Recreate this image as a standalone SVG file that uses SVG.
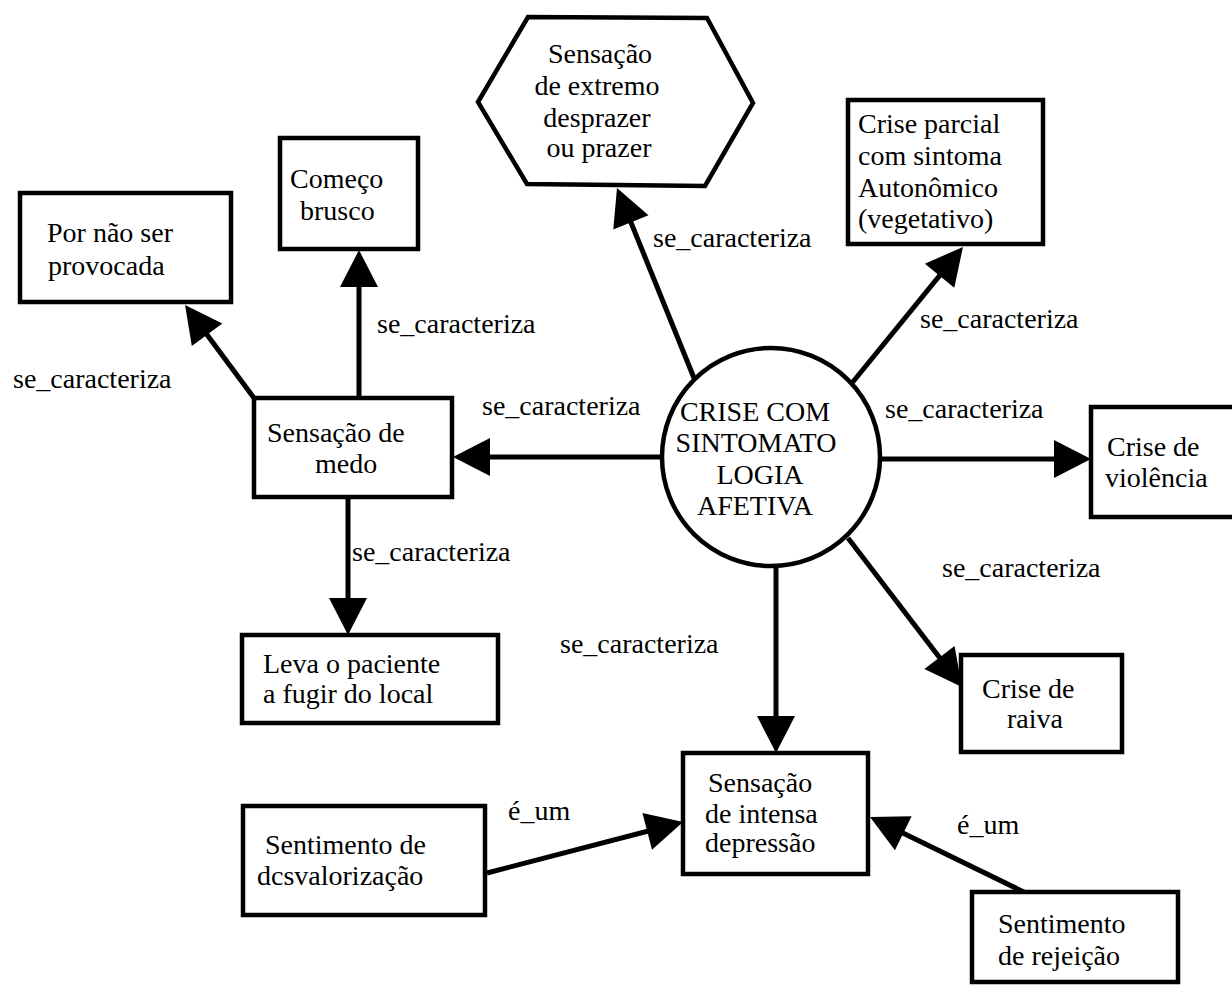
<svg xmlns="http://www.w3.org/2000/svg" width="1232" height="989" viewBox="0 0 1232 989">
  <style>
    .box { fill: #fff; stroke: #000; stroke-width: 4.5; }
    .edge { stroke: #000; stroke-width: 5; fill: none; marker-end: url(#ah); }
    text { font-family: "Liberation Serif", "Times New Roman", serif; font-size: 28px; fill: #000; }
    .c { text-anchor: middle; }
  </style>
  <defs>
    <marker id="ah" viewBox="-30 -20 39 40" refX="0" refY="0" markerWidth="39" markerHeight="40" markerUnits="userSpaceOnUse" orient="auto">
      <path d="M8,0 L-29,-19 L-29,19 Z" fill="#000"/>
    </marker>
  </defs>
  <rect width="1232" height="989" fill="#fff"/>

  <!-- connectors -->
  <g id="connectors">
    <line class="edge" x1="662" y1="457" x2="461" y2="457"/>
    <line class="edge" x1="880" y1="459" x2="1083" y2="459"/>
    <line class="edge" x1="776" y1="567" x2="776" y2="745"/>
    <line class="edge" x1="694" y1="378" x2="620" y2="195.4"/>
    <line class="edge" x1="852" y1="383" x2="957.9" y2="253.2"/>
    <line class="edge" x1="848" y1="538" x2="957.1" y2="680.6"/>
    <line class="edge" x1="359" y1="398" x2="359" y2="258"/>
    <line class="edge" x1="254" y1="398" x2="189.8" y2="311.4"/>
    <line class="edge" x1="348" y1="497" x2="348" y2="627"/>
    <line class="edge" x1="487" y1="873" x2="675.3" y2="824"/>
    <line class="edge" x1="1030" y1="895" x2="877.2" y2="820.5"/>

    <text x="482" y="415">se_caracteriza</text>
    <text x="885" y="418">se_caracteriza</text>
    <text x="653" y="247">se_caracteriza</text>
    <text x="920" y="328">se_caracteriza</text>
    <text x="942" y="577">se_caracteriza</text>
    <text x="560" y="653">se_caracteriza</text>
    <text x="377" y="333">se_caracteriza</text>
    <text x="13" y="388">se_caracteriza</text>
    <text x="352" y="561">se_caracteriza</text>
    <text x="508" y="820">é_um</text>
    <text x="957" y="834">é_um</text>
  </g>

  <g id="crise-afetiva">
    <circle cx="771" cy="457" r="109" class="box" stroke-width="4"/>
    <text class="c" x="755" y="421">CRISE COM</text>
    <text class="c" x="756" y="452">SINTOMATO</text>
    <text class="c" x="760" y="484">LOGIA</text>
    <text class="c" x="755" y="515">AFETIVA</text>
  </g>

  <g id="extremo-desprazer">
    <polygon class="box" points="478,102 528,17 707,18 753,103 705,186 527,184"/>
    <text class="c" x="600" y="63">Sensação</text>
    <text class="c" x="597" y="95">de extremo</text>
    <text class="c" x="597" y="127">desprazer</text>
    <text class="c" x="599" y="157">ou prazer</text>
  </g>

  <g id="crise-parcial">
    <rect class="box" x="848" y="100" width="195" height="144"/>
    <text x="858" y="133">Crise parcial</text>
    <text x="858" y="165">com sintoma</text>
    <text x="858" y="197">Autonômico</text>
    <text x="858" y="228">(vegetativo)</text>
  </g>

  <g id="crise-violencia">
    <rect class="box" x="1091" y="407" width="160" height="110"/>
    <text x="1107" y="456">Crise de</text>
    <text x="1105" y="487">violência</text>
  </g>

  <g id="crise-raiva">
    <rect class="box" x="961" y="655" width="161" height="97"/>
    <text x="982" y="698">Crise de</text>
    <text x="1007" y="728">raiva</text>
  </g>

  <g id="intensa-depressao">
    <rect class="box" x="683" y="753" width="185" height="121"/>
    <text x="708" y="792">Sensação</text>
    <text x="705" y="823">de intensa</text>
    <text x="705" y="852">depressão</text>
  </g>

  <g id="desvalorizacao">
    <rect class="box" x="243" y="806" width="242" height="109"/>
    <text x="265" y="854">Sentimento de</text>
    <text x="257" y="885">dcsvalorização</text>
  </g>

  <g id="rejeicao">
    <rect class="box" x="972" y="892" width="206" height="90"/>
    <text x="998" y="933">Sentimento</text>
    <text x="998" y="965">de rejeição</text>
  </g>

  <g id="sensacao-medo">
    <rect class="box" x="254" y="398" width="198" height="99"/>
    <text x="267" y="442">Sensação de</text>
    <text x="315" y="473">medo</text>
  </g>

  <g id="comeco-brusco">
    <rect class="box" x="280" y="138" width="138" height="111"/>
    <text x="290" y="188">Começo</text>
    <text x="300" y="220">brusco</text>
  </g>

  <g id="nao-provocada">
    <rect class="box" x="20" y="193" width="211" height="109"/>
    <text x="47" y="242">Por não ser</text>
    <text x="48" y="275">provocada</text>
  </g>

  <g id="fugir-local">
    <rect class="box" x="242" y="635" width="256" height="88"/>
    <text x="263" y="673">Leva o paciente</text>
    <text x="263" y="703">a fugir do local</text>
  </g>
</svg>
